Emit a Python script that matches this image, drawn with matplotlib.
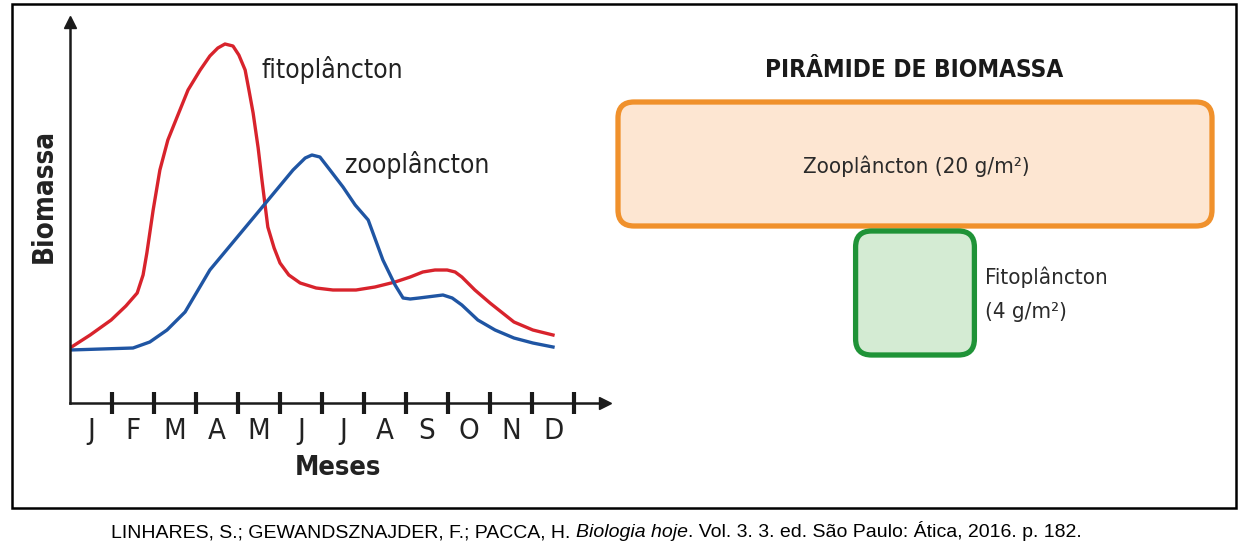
import matplotlib
matplotlib.use("Agg")
import matplotlib.pyplot as plt
from matplotlib.patches import FancyBboxPatch, Rectangle
from matplotlib.ticker import FixedLocator, NullFormatter

# Curve data: x in months (0 = start of January), y = relative biomass
meses = ["J", "F", "M", "A", "M", "J", "J", "A", "S", "O", "N", "D"]

fito_x = [0.00, 0.48, 0.98, 1.33, 1.60, 1.74, 1.83, 1.98, 2.14, 2.33, 2.55, 2.81,
          3.10, 3.33, 3.52, 3.69, 3.88, 4.02, 4.17, 4.26, 4.36, 4.48, 4.57, 4.71,
          4.86, 5.00, 5.21, 5.48, 5.86, 6.26, 6.81, 7.26, 7.74, 8.10, 8.40, 8.69,
          8.98, 9.17, 9.33, 9.64, 10.00, 10.57, 11.02, 11.50]
fito_y = [55, 68, 83, 97, 110, 128, 150, 193, 233, 263, 286, 313,
          333, 347, 355, 359, 357, 348, 333, 313, 290, 255, 223, 176,
          155, 140, 128, 120, 115, 113, 113, 116, 121, 126, 131, 133,
          133, 131, 126, 113, 100, 81, 73, 68]

zoo_x = [0.00, 1.50, 1.90, 2.31, 2.74, 3.33, 4.52, 5.31, 5.60, 5.76, 5.95, 6.19,
         6.50, 6.79, 7.10, 7.45, 7.74, 7.93, 8.10, 8.31, 8.88, 9.10, 9.33, 9.71,
         10.12, 10.57, 11.02, 11.50]
zoo_y = [53, 55, 61, 73, 91, 133, 193, 233, 245, 248, 246, 233,
         216, 198, 183, 143, 118, 105, 104, 105, 108, 105, 98, 83,
         73, 65, 60, 56]

# Biomass pyramid (g/m2)
piramide_nomes = ["Zooplâncton", "Fitoplâncton"]
piramide_valores = [20, 4]

W, H = 1247, 555
fonte = dict(family=["DejaVu Sans"], fontstretch="condensed")

fig = plt.figure(figsize=(W / 100, H / 100), dpi=100)

# overlay in pixel coordinates for frame, pyramid and caption
ov = fig.add_axes([0, 0, 1, 1])
ov.set_xlim(0, W)
ov.set_ylim(H, 0)
ov.axis("off")
ov.add_patch(Rectangle((12, 4), 1224, 504, fill=False, lw=1.8, ec="black"))

# ---- line chart
ax = fig.add_axes([70 / W, (H - 403) / H, (605 - 70) / W, (403 - 22) / H])
ax.patch.set_alpha(0)
ax.plot(fito_x, fito_y, color="#d8232c", lw=2.4, solid_joinstyle="round")
ax.plot(zoo_x, zoo_y, color="#1f55a3", lw=2.4, solid_joinstyle="round")
ax.set_xlim(0, (605 - 70) / 42)
ax.set_ylim(0, 381)
for s in ["top", "right"]:
    ax.spines[s].set_visible(False)
for s in ["left", "bottom"]:
    ax.spines[s].set_linewidth(1.8)
    ax.spines[s].set_color("#1a1a1a")
ax.plot(1, 0, ">", color="#1a1a1a", ms=8, transform=ax.transAxes, clip_on=False)
ax.plot(0, 1, "^", color="#1a1a1a", ms=8, transform=ax.transAxes, clip_on=False)
ax.set_yticks([])
ax.xaxis.set_major_locator(FixedLocator(range(1, 13)))
ax.xaxis.set_major_formatter(NullFormatter())
ax.xaxis.set_minor_locator(FixedLocator([i + 0.5 for i in range(12)]))
ax.set_xticklabels(meses, minor=True, fontsize=21, color="#222222", **fonte)
ax.tick_params(axis="x", which="major", direction="inout", length=16, width=3.0, color="#1a1a1a")
ax.tick_params(axis="x", which="minor", length=0, pad=10)
ax.set_xlabel("Meses", fontsize=19.5, fontweight="bold", labelpad=7, color="#222222", **fonte)
ax.set_ylabel("Biomassa", fontsize=20, fontweight="bold", color="#222222", **fonte)
ax.yaxis.set_label_coords(-0.022, 0.543)
ax.text(4.57, 333, "fitoplâncton", fontsize=19, va="center", ha="left", color="#222222", **fonte)
ax.text(6.55, 238, "zooplâncton", fontsize=19, va="center", ha="left", color="#222222", **fonte)

# ---- biomass pyramid
cx = 915
escala = 594 / piramide_valores[0]
topo = [102, 231]
alt = 124
cores_borda = ["#f0912c", "#1f9337"]
cores_fundo = ["#fde6d2", "#d4ebd3"]
for val, y0, ec, fc in zip(piramide_valores, topo, cores_borda, cores_fundo):
    w = val * escala
    ov.add_patch(FancyBboxPatch((cx - w / 2, y0), w, alt,
                                boxstyle="round,pad=0,rounding_size=16",
                                lw=3.8, ec=ec, fc=fc))

ov.text(cx - 1, 70, "PIRÂMIDE DE BIOMASSA", fontsize=17.5, fontweight="bold",
        ha="center", va="center", color="#1a1a1a", **fonte)
ov.text(cx + 1, 166, f"{piramide_nomes[0]} ({piramide_valores[0]} g/m²)",
        fontsize=16, ha="center", va="center", color="#2a2a2a", **fonte)
ov.text(985, 277, piramide_nomes[1], fontsize=16, ha="left", va="center", color="#2a2a2a", **fonte)
ov.text(985, 312, f"({piramide_valores[1]} g/m²)", fontsize=16,
        ha="left", va="center", color="#2a2a2a", **fonte)

# ---- caption with italic title
partes = [("LINHARES, S.; GEWANDSZNAJDER, F.; PACCA, H. ", "normal"),
          ("Biologia hoje", "italic"),
          (". Vol. 3. 3. ed. São Paulo: Ática, 2016. p. 182.", "normal")]
fig.canvas.draw()
r = fig.canvas.get_renderer()
txts = []
for s, st in partes:
    t = ov.text(0, 537, s, family="Liberation Sans", fontsize=14, style=st,
                ha="left", va="baseline", color="black")
    txts.append(t)
larg = [t.get_window_extent(r).width for t in txts]
x = 596 - sum(larg) / 2
for t, w in zip(txts, larg):
    t.set_x(x)
    x += w

fig.savefig("out.png", dpi=100)
